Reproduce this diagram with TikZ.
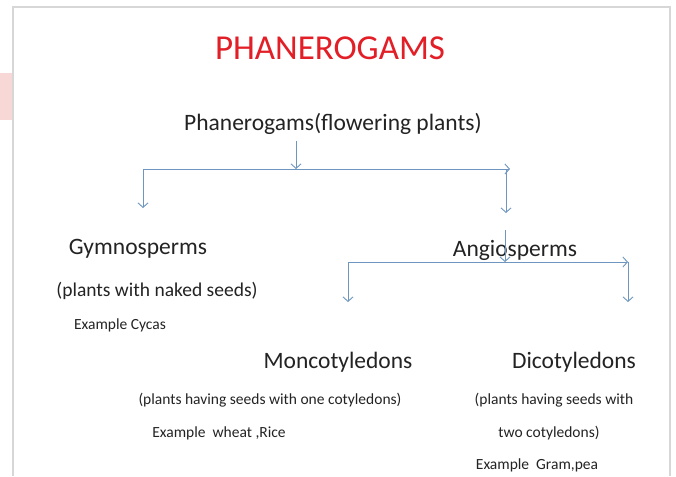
\documentclass[tikz,border=0pt]{standalone}
\usepackage{fontspec}
\setmainfont{Carlito}
\usepackage{xcolor}
\usepackage{tikz}
\usetikzlibrary{arrows.meta,positioning,calc}

\definecolor{slidered}{RGB}{226,30,38}
\definecolor{linkblue}{RGB}{110,150,190}
\definecolor{txtgrey}{RGB}{35,35,35}
\definecolor{edgegrey}{RGB}{215,215,215}
\definecolor{tabpink}{RGB}{248,215,215}

\begin{document}
\begin{tikzpicture}[
  x=1pt, y=-1pt,
  big/.style={font=\fontsize{23.5}{26}\selectfont, text=txtgrey, inner sep=0pt},
  mid/.style={font=\fontsize{19.5}{22}\selectfont, text=txtgrey, inner sep=0pt},
  small/.style={font=\fontsize{15.5}{18}\selectfont, text=txtgrey, inner sep=0pt},
  arr/.style={-{Straight Barb[length=4.5pt,width=10pt]}, linkblue, line width=0.9pt}
]
% slide frame
\fill[white] (0,0) rectangle (676,476);
\fill[tabpink] (0,73) rectangle (13,120);
\draw[edgegrey, line width=1.5pt] (13,476) -- (13,7) -- (670,7) -- (670,476);

% texts
\node[font=\fontsize{35}{38}\selectfont, text=slidered, inner sep=0pt] (title) at (330,48) {PHANEROGAMS};
\node[big] (phan) at (333,124) {Phanerogams(flowering plants)};
\node[big] (gym) at (138,249) {Gymnosperms};
\node[mid] (gymtxt) at (157,291) {(plants with naked seeds)};
\node[small] (gymex) at (120,325) {Example Cycas};
\node[big] (ang) at (515,250) {Angiosperms};
\node[big] (mono) at (338,362) {Moncotyledons};
\node[small] (monotxt) at (270,400) {(plants having seeds with one cotyledons)};
\node[small] (monoex) at (219,433) {Example\ \ wheat ,Rice};
\node[big] (dico) at (574,362) {Dicotyledons};
\node[small] (dicotxt) at (554,400) {(plants having seeds with};
\node[small] (dicotxtb) at (549,433) {two cotyledons)};
\node[small] (dicoex) at (537,465) {Example\ \ Gram,pea};

% junctions
\coordinate (j1) at (296,169);
\coordinate (j1l) at (143,169);
\coordinate (j1r) at (510,169);
\coordinate (j1d) at (506,169);
\coordinate (gymtop) at (143,208);
\coordinate (angtop) at (506,213);
\coordinate (j2top) at (505,230);
\coordinate (j2) at (505,262);
\coordinate (j2l) at (348,262);
\coordinate (j2r) at (628,262);
\coordinate (monotop) at (348,302);
\coordinate (dicotop) at (628,302);

% connectors
\draw[arr] (phan.south -| j1) ++(0,6) -- (j1);
\draw[arr] (j1l) -- (j1r);
\draw[arr] (j1l) -- (gymtop);
\draw[arr] (j1d) -- (angtop);
\draw[arr] (j2top) -- (j2);
\draw[arr] (j2l) -- (j2r);
\draw[arr] (j2l) -- (monotop);
\draw[arr] (j2r) -- (dicotop);
\end{tikzpicture}
\end{document}
